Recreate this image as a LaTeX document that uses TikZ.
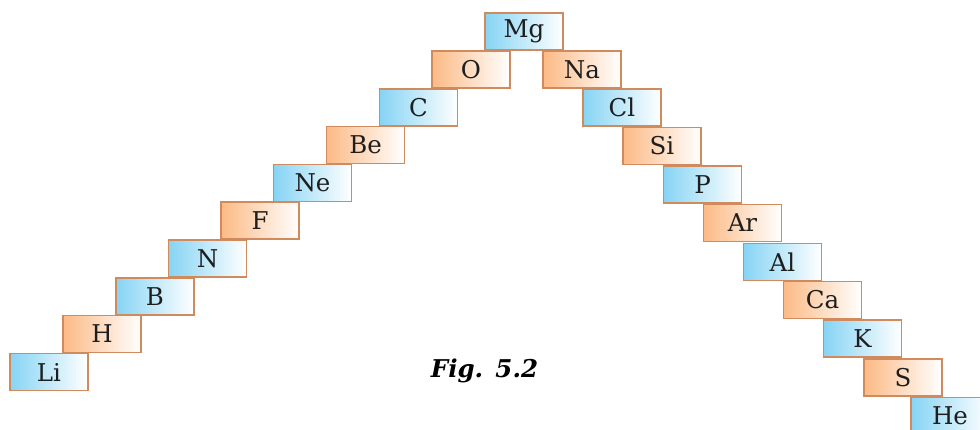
\documentclass[tikz,border=0pt]{standalone}
\usepackage{fontspec}
\setmainfont{DejaVu Serif}
\definecolor{boxblue}{HTML}{86D4F4}
\definecolor{boxorange}{HTML}{FCBA85}
\definecolor{boxedge}{HTML}{CF8A5E}
\definecolor{txt}{HTML}{1E1E1E}
\tikzset{
  elem/.style={minimum width=78pt, minimum height=37pt,
    inner sep=0pt, text=txt, font=\fontsize{24.5}{28}\selectfont},
  bluebox/.style={elem, left color=boxblue, right color=white},
  orangebox/.style={elem, left color=boxorange, right color=white},
  edgeline/.style={draw=boxedge, line width=1.5pt}
}
\begin{document}
\begin{tikzpicture}[x=1pt,y=-1pt]
\useasboundingbox (0,0) rectangle (980,430);
% left arm
\node[bluebox]   (Li) at (49,372)    {Li};
\node[orangebox] (H)  at (102,334)   {H};
\node[bluebox]   (B)  at (155,296.5) {B};
\node[bluebox]   (N)  at (207.5,258.5) {N};
\node[orangebox] (F)  at (260,220.5) {F};
\node[bluebox]   (Ne) at (312.5,183) {Ne};
\node[orangebox] (Be) at (365.5,145) {Be};
\node[bluebox]   (C)  at (418.5,107.5) {C};
\node[orangebox] (O)  at (471,69.5)  {O};
\node[bluebox]   (Mg) at (524,31.5)  {Mg};
% right arm
\node[orangebox] (Na) at (582,69.5)  {Na};
\node[bluebox]   (Cl) at (622,107.5) {Cl};
\node[orangebox] (Si) at (662,146)   {Si};
\node[bluebox]   (P)  at (702.5,184.5) {P};
\node[orangebox] (Ar) at (742.5,223) {Ar};
\node[bluebox]   (Al) at (782.5,262) {Al};
\node[orangebox] (Ca) at (822.5,300) {Ca};
\node[bluebox]   (K)  at (862.5,338.5) {K};
\node[orangebox] (S)  at (903,377.5) {S};
\node[bluebox]   (He) at (950,416)   {He};
% borders
\foreach \n in {Li,H,B,N,F,Ne,Be,C,O,Mg,Na,Cl,Si,P,Ar,Al,Ca,K,S,He}
  \draw[edgeline] (\n.north west) rectangle (\n.south east);
% caption
\node[font=\fontsize{24.5}{28}\selectfont\bfseries\itshape, text=black] (cap) at (484.5,371) {Fig.\hspace{0.5em}5.2};
\end{tikzpicture}
\end{document}
